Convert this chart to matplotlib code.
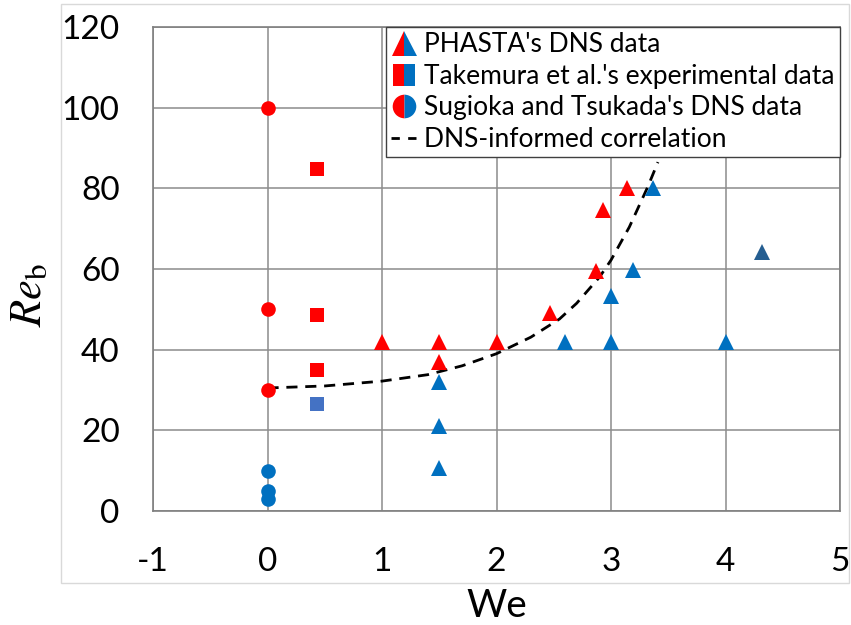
import matplotlib.pyplot as plt
from matplotlib.lines import Line2D
from matplotlib.patches import Rectangle

plt.rcParams['font.family'] = ['Lato', 'DejaVu Sans']
plt.rcParams['mathtext.fontset'] = 'stix'
plt.rcParams['axes.unicode_minus'] = False

# PHASTA DNS (red / blue / dark blue triangles)
phasta_red_we = [1.0, 1.5, 1.5, 2.0, 2.47, 2.87, 2.93, 3.14]
phasta_red_re = [42, 42, 37, 42, 49, 59.5, 74.7, 80]
phasta_blue_we = [1.5, 1.5, 1.5, 2.6, 3.0, 3.0, 3.19, 3.37, 4.0]
phasta_blue_re = [32, 21, 10.6, 42, 53.3, 42, 59.8, 80, 42]
phasta_dark_we = [4.32]
phasta_dark_re = [64.2]

# Takemura et al. experiments
take_red_we = [0.43, 0.43, 0.43]
take_red_re = [84.8, 48.6, 35]
take_blue_we = [0.43]
take_blue_re = [26.6]

# Sugioka and Tsukada DNS
sug_red_we = [0, 0, 0]
sug_red_re = [100, 50, 30]
sug_blue_we = [0, 0, 0]
sug_blue_re = [10, 5, 3]

# DNS-informed correlation curve
corr_we = [0.0, 0.5, 1.0, 1.4, 1.7, 2.0, 2.3, 2.55, 2.7, 2.9, 3.0, 3.16, 3.32, 3.41]
corr_re = [30.5, 31.0, 32.2, 33.8, 36.0, 39.0, 43.1, 47.6, 51.5, 58.0, 62.2, 70.4, 80.3, 86.5]

RED = '#FF0000'
BLUE = '#0070C0'
LBLUE = '#4472C4'
DBLUE = '#255E91'

fig = plt.figure(figsize=(8.51, 6.25), dpi=100)
# light chart-area border
fig.patches.append(Rectangle((61 / 851, 42 / 625), 788 / 851, 579 / 625,
                             transform=fig.transFigure, fill=False,
                             edgecolor='#D9D9D9', lw=1))
ax = fig.add_axes([153 / 851, 114 / 625, 687 / 851, 484 / 625])

ax.plot(corr_we, corr_re, color='black', lw=2, ls=(0, (4, 2.8)), zorder=4)

kw = dict(ls='none', mew=0, zorder=5)
ax.plot(sug_red_we, sug_red_re, 'o', ms=10.5, color=RED, **kw)
ax.plot(sug_blue_we, sug_blue_re, 'o', ms=10.5, color=BLUE, **kw)
ax.plot(take_red_we, take_red_re, 's', ms=9.5, color=RED, **kw)
ax.plot(take_blue_we, take_blue_re, 's', ms=9.5, color=LBLUE, **kw)
ax.plot(phasta_red_we, phasta_red_re, '^', ms=11.5, color=RED, **kw)
ax.plot(phasta_blue_we, phasta_blue_re, '^', ms=11.5, color=BLUE, **kw)
ax.plot(phasta_dark_we, phasta_dark_re, '^', ms=11.5, color=DBLUE, **kw)

ax.set_xlim(-1, 5)
ax.set_ylim(0, 120)
ax.set_xticks(range(-1, 6))
ax.set_yticks(range(0, 121, 20))
ax.grid(True, color='#8C8C8C', lw=1.1)
ax.set_axisbelow(True)
for s in ax.spines.values():
    s.set_color('#7F7F7F')
    s.set_linewidth(1.2)
ax.tick_params(length=0, labelsize=24)
ax.tick_params(axis='x', pad=26)
ax.tick_params(axis='y', pad=24)
ax.set_xlabel('We', fontsize=28)
ax.set_ylabel(r'$Re_{\mathrm{b}}$', fontsize=32)
ax.xaxis.set_label_coords(0.5, -0.16)
ax.yaxis.set_label_coords(-0.152, 0.446)

# half red / half blue legend markers
handles = [
    Line2D([], [], marker='^', ms=18, ls='none', mew=0, fillstyle='left',
           markerfacecolor=RED, markerfacecoloralt=BLUE),
    Line2D([], [], marker='s', ms=16, ls='none', mew=0, fillstyle='left',
           markerfacecolor=RED, markerfacecoloralt=BLUE),
    Line2D([], [], marker='o', ms=17, ls='none', mew=0, fillstyle='left',
           markerfacecolor=RED, markerfacecoloralt=BLUE),
    Line2D([], [], color='black', lw=2, ls=(0, (3, 3))),
]
labels = ["PHASTA's DNS data", "Takemura et al.'s experimental data",
          "Sugioka and Tsukada's DNS data", "DNS-informed correlation"]
leg = ax.legend(handles, labels, loc='upper right', bbox_to_anchor=(1, 1),
                borderaxespad=0, fontsize=19, handlelength=1.0,
                handletextpad=0.25, labelspacing=0.25, borderpad=0.2,
                fancybox=False, framealpha=1, edgecolor='#404040')
leg.get_frame().set_linewidth(1.0)
leg.set_zorder(6)

fig.savefig('out.png', dpi=100)
